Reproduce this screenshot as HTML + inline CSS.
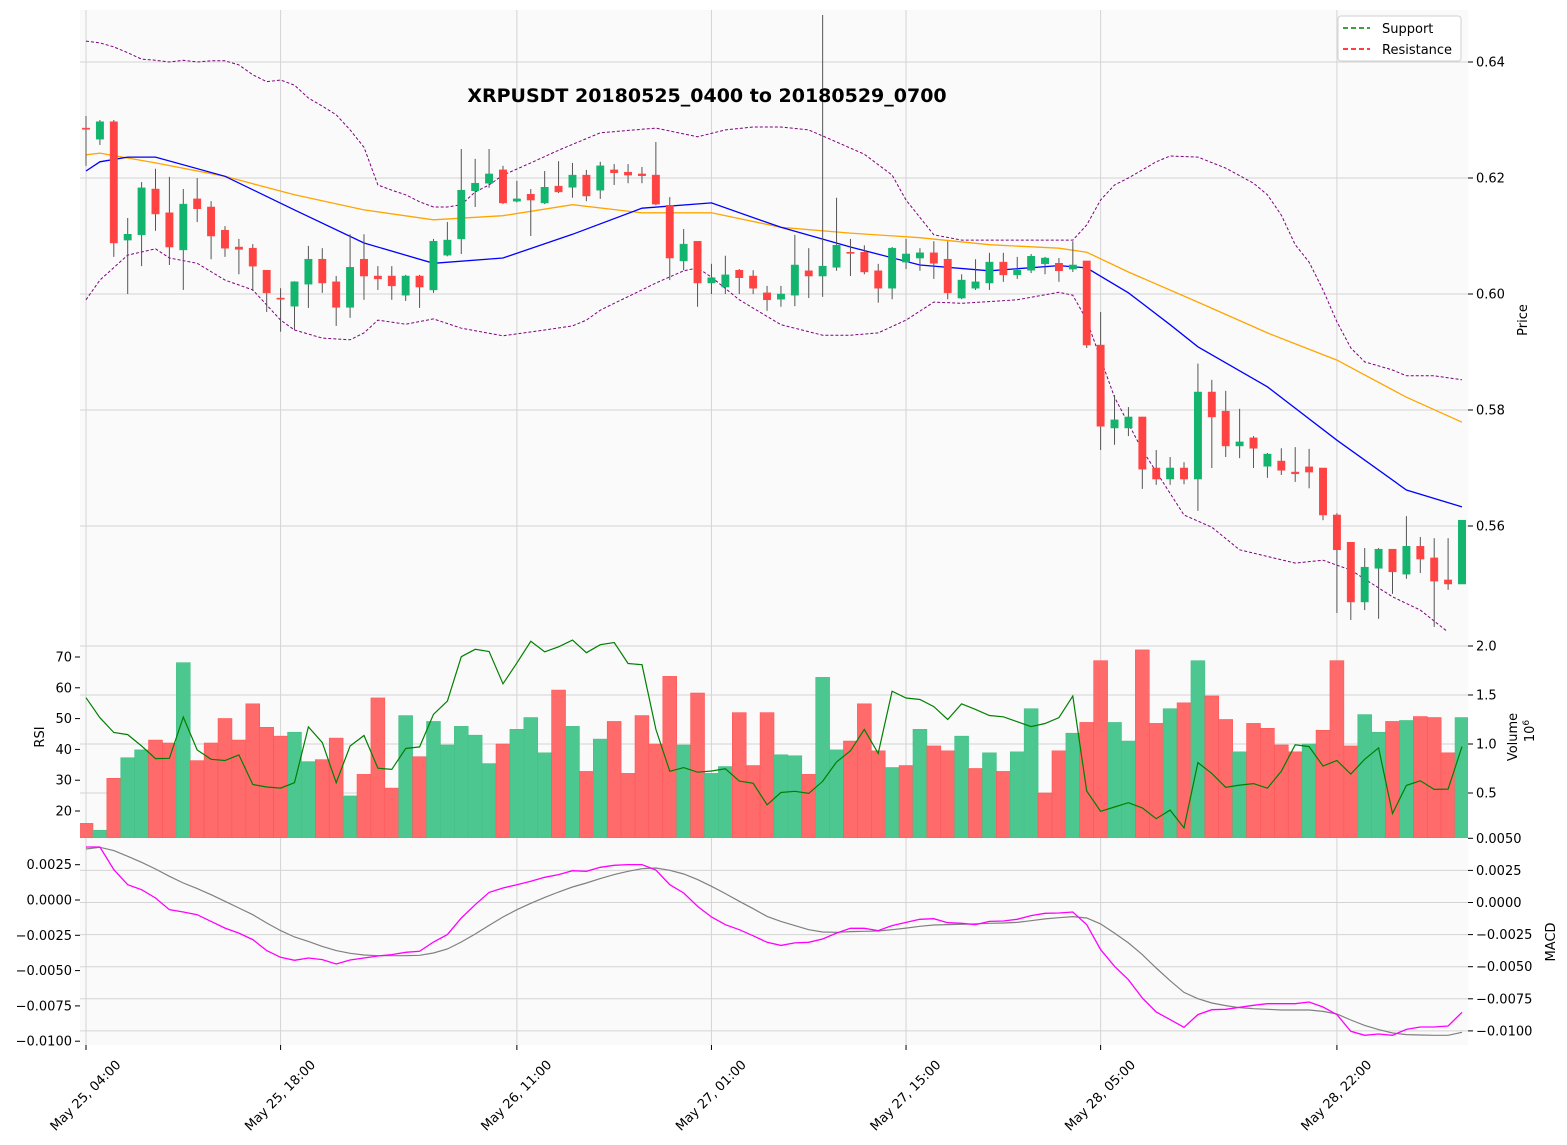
<!DOCTYPE html>
<html><head><meta charset="utf-8"><style>
html,body{margin:0;padding:0;background:#fff;}
svg{display:block;font-family:"DejaVu Sans","Liberation Sans",sans-serif;}
</style></head><body>
<svg id="chart" width="1567" height="1145" viewBox="0 0 1567 1145" xmlns="http://www.w3.org/2000/svg">
<defs>
<clipPath id="cpMain"><rect x="80" y="10" width="1388" height="621"/></clipPath>
<clipPath id="cpVol"><rect x="80" y="631" width="1388" height="207"/></clipPath>
<clipPath id="cpMacd"><rect x="80" y="838" width="1388" height="207"/></clipPath>
</defs>
<rect x="80" y="10" width="1388" height="621" fill="#fafafa"/>
<rect x="80" y="631" width="1388" height="207" fill="#fafafa"/>
<rect x="80" y="838" width="1388" height="207" fill="#fafafa"/>
<g id="grid"></g>
<g id="mainG" clip-path="url(#cpMain)"></g>
<g id="volG" clip-path="url(#cpVol)"></g>
<g id="macdG" clip-path="url(#cpMacd)"></g>
<g id="axes"></g>
<text x="707" y="102" text-anchor="middle" font-size="19" font-weight="bold" fill="#000">XRPUSDT 20180525_0400 to 20180529_0700</text>
<g>
<rect x="1338" y="16" width="123" height="45" rx="3" fill="#ffffff" fill-opacity="0.85" stroke="#d0d0d0"/>
<line x1="1343" y1="28" x2="1370" y2="28" stroke="green" stroke-width="1.5" stroke-dasharray="5,3"/>
<text x="1382" y="33" font-size="13">Support</text>
<line x1="1343" y1="49" x2="1370" y2="49" stroke="red" stroke-width="1.5" stroke-dasharray="5,3"/>
<text x="1382" y="54" font-size="13">Resistance</text>
</g>
<text transform="translate(1527,320) rotate(-90)" text-anchor="middle" font-size="13">Price</text>
<text transform="translate(44,737) rotate(-90)" text-anchor="middle" font-size="13">RSI</text>
<text transform="translate(1517,737) rotate(-90)" text-anchor="middle" font-size="13">Volume</text>
<text transform="translate(1534,731) rotate(-90)" text-anchor="middle" font-size="13">10<tspan dy="-5" font-size="9">6</tspan></text>
<text transform="translate(1555,942) rotate(-90)" text-anchor="middle" font-size="13">MACD</text>
</svg>
<script>
const opens=[.6286,.6267,.6297,.6093,.6102,.6181,.6140,.6076,.6164,.6150,.6110,.6081,.6079,.6041,.5993,.5979,.6017,.6060,.6021,.5977,.6060,.6031,.6031,.5998,.6031,.6007,.6067,.6095,.6178,.6191,.6214,.6160,.6172,.6157,.6186,.6184,.6205,.6179,.6214,.6210,.6207,.6205,.6153,.6057,.6091,.6019,.6012,.6041,.6031,.6002,.5991,.5998,.6040,.6031,.6046,.6072,.6072,.6040,.6010,.6055,.6062,.6071,.6060,.5993,.6010,.6019,.6055,.6033,.6041,.6052,.6053,.6043,.6057,.5912,.5769,.5769,.5788,.5700,.5681,.5700,.5681,.5831,.5798,.5738,.5752,.5703,.5712,.5693,.5702,.5700,.5619,.5572,.5469,.5527,.5560,.5517,.5565,.5545,.5507,.5500];
const highs=[.6307,.6300,.6300,.6131,.6193,.6216,.6202,.6181,.6200,.6160,.6117,.6095,.6086,.6041,.6010,.6022,.6083,.6079,.6031,.6103,.6103,.6048,.6048,.6033,.6033,.6095,.6124,.6250,.6233,.6250,.6221,.6195,.6181,.6212,.6229,.6226,.6214,.6228,.6224,.6224,.6219,.6262,.6167,.6112,.6091,.6052,.6066,.6043,.6041,.6014,.6014,.6102,.6079,.6481,.6166,.6095,.6084,.6052,.6081,.6095,.6079,.6091,.6091,.6034,.6060,.6071,.6071,.6064,.6069,.6064,.6062,.6091,.6057,.5969,.5826,.5805,.5788,.5731,.5719,.5710,.5880,.5852,.5833,.5802,.5755,.5726,.5734,.5736,.5733,.5700,.5622,.5572,.5562,.5562,.5560,.5617,.5581,.5579,.5579,.5610];
const lows=[.6221,.6257,.6064,.6000,.6048,.6109,.6050,.6007,.6124,.6060,.6064,.6034,.6005,.5969,.5935,.5938,.5976,.6002,.5945,.5959,.5990,.6007,.5990,.5988,.5976,.6002,.6065,.6069,.6150,.6183,.6155,.6158,.6100,.6155,.6174,.6166,.6160,.6164,.6188,.6191,.6191,.6153,.6024,.6041,.5978,.6000,.6000,.6000,.6000,.5971,.5978,.5979,.5993,.5995,.6040,.6031,.6034,.5985,.5991,.6043,.6040,.6026,.5991,.5991,.6007,.6007,.6021,.6026,.6036,.6034,.6021,.6038,.5907,.5731,.5740,.5755,.5664,.5671,.5671,.5672,.5626,.5700,.5719,.5717,.5700,.5683,.5688,.5676,.5665,.5610,.5450,.5438,.5455,.5440,.5483,.5509,.5519,.5426,.5490,.5500];
const closes=[.6284,.6297,.6088,.6103,.6183,.6138,.6081,.6155,.6147,.6100,.6079,.6077,.6048,.6002,.5992,.6021,.6060,.6019,.5977,.6046,.6031,.6026,.6014,.6031,.6012,.6091,.6093,.6179,.6191,.6207,.6157,.6164,.6162,.6184,.6176,.6205,.6169,.6221,.6209,.6205,.6204,.6155,.6062,.6086,.6019,.6028,.6033,.6028,.6010,.5990,.6000,.6050,.6031,.6048,.6084,.6070,.6038,.6010,.6079,.6069,.6071,.6053,.6002,.6024,.6021,.6055,.6033,.6041,.6065,.6062,.6040,.6050,.5912,.5772,.5783,.5788,.5698,.5681,.5700,.5681,.5831,.5788,.5738,.5745,.5734,.5724,.5696,.5690,.5693,.5619,.5559,.5469,.5529,.5560,.5521,.5565,.5543,.5505,.5500,.5610];
const volumes=[.19,.12,.65,.86,.94,1.04,1.01,1.83,.83,1.01,1.26,1.04,1.41,1.17,1.08,1.12,.82,.84,1.06,.47,.69,1.47,.55,1.29,.87,1.23,.99,1.18,1.09,.80,1.00,1.15,1.27,.91,1.55,1.18,.72,1.05,1.23,.70,1.29,1.00,1.69,.99,1.52,.70,.77,1.32,.78,1.32,.89,.88,.69,1.68,.94,1.03,1.41,.93,.76,.78,1.15,.98,.93,1.08,.75,.91,.72,.92,1.36,.50,.93,1.11,1.22,1.85,1.22,1.03,1.96,1.21,1.36,1.42,1.85,1.49,1.25,.92,1.21,1.16,.99,.92,1.00,1.14,1.85,.98,1.30,1.12,1.23,1.24,1.28,1.27,.91,1.27];
const volDir="rgrggrrgrrrrrrrggrrgrrrgrgggggrgggrgrgrrrrrgrggrrrggrggrrrgrgrrgrgrggrrgrrggrrgrgrrgrrrrgrrrggrgrrrg";
const rsi=[56.8,50.3,45.5,44.8,41.1,37.0,37.1,50.5,39.8,36.8,36.4,38.2,28.6,27.8,27.45,29.2,47.3,42.2,29.2,41.1,44.5,33.9,33.5,40.3,40.8,51.4,55.7,70.1,72.5,71.8,61.3,68.1,75.1,71.7,73.3,75.5,71.4,74.0,74.7,67.9,67.5,46.5,32.9,34.1,32.6,33.0,33.7,29.7,29.0,22.0,26.0,26.4,25.7,29.6,35.9,39.5,46.5,38.7,58.9,56.7,56.2,53.9,49.7,54.8,53.0,51.0,50.6,49.0,47.4,48.4,50.3,57.3,26.5,19.9,21.3,22.7,21.0,17.5,20.3,14.5,35.7,32.2,27.7,28.4,28.9,27.4,32.9,41.5,40.9,34.6,36.4,32.0,36.8,40.5,19.2,28.3,29.8,27.0,27.1,40.9];
const macd=[.00432,.00432,.00256,.00139,.00100,.00035,-.00056,-.00074,-.00095,-.00147,-.00199,-.00238,-.00289,-.00375,-.00427,-.00450,-.00432,-.00445,-.00479,-.00448,-.00432,-.00417,-.00406,-.00388,-.00380,-.00308,-.00250,-.00121,-.00017,.00079,.00113,.00139,.00165,.00196,.00217,.00248,.00243,.00274,.00290,.00295,.00295,.00253,.00139,.00074,-.00030,-.00113,-.00173,-.00212,-.00259,-.00310,-.00334,-.00315,-.00310,-.00284,-.00238,-.00201,-.00201,-.00219,-.00180,-.00155,-.00131,-.00126,-.00157,-.00162,-.00172,-.00147,-.00144,-.00131,-.00102,-.00084,-.00082,-.00074,-.00172,-.00367,-.00497,-.00601,-.00744,-.00853,-.00912,-.00972,-.00873,-.00835,-.00832,-.00816,-.00801,-.00788,-.00788,-.00788,-.00775,-.00814,-.00873,-.01003,-.01034,-.01024,-.01034,-.00988,-.00970,-.00970,-.00962,-.00855];
const signal=[.00417,.00430,.00404,.00360,.00313,.00261,.00204,.00152,.00108,.00061,.00009,-.00043,-.00095,-.00160,-.00219,-.00269,-.00303,-.00342,-.00375,-.00396,-.00409,-.00414,-.00414,-.00414,-.00411,-.00393,-.00362,-.00308,-.00245,-.00178,-.00113,-.00056,-.00006,.00040,.00082,.00121,.00152,.00186,.00217,.00243,.00263,.00269,.00251,.00222,.00178,.00126,.00069,.00009,-.00048,-.00108,-.00147,-.00180,-.00212,-.00230,-.00232,-.00227,-.00224,-.00222,-.00212,-.00199,-.00185,-.00175,-.00172,-.00170,-.00167,-.00162,-.00160,-.00155,-.00142,-.00128,-.00118,-.00110,-.00121,-.00167,-.00238,-.00315,-.00406,-.00510,-.00609,-.00700,-.00749,-.00783,-.00803,-.00819,-.00827,-.00832,-.00837,-.00837,-.00837,-.00848,-.00868,-.00915,-.00957,-.00990,-.01016,-.01029,-.01032,-.01034,-.01034,-.01011];
const smaIdx=[0,1,3,5,10,15,20,25,30,35,40,45,50,55,60,65,70,72,75,78,80,85,90,95,99];
const smaVal=[.6212,.6228,.6236,.6236,.6203,.6145,.6088,.6053,.6062,.6103,.6148,.6157,.6115,.6081,.6050,.6040,.6049,.6045,.6002,.5947,.5909,.5840,.5748,.5662,.5633];
const emaIdx=[0,1,5,10,15,20,25,30,35,40,45,50,55,60,65,70,72,75,80,85,90,95,99];
const emaVal=[.6240,.6243,.6226,.6203,.6171,.6145,.6128,.6135,.6154,.6140,.6140,.6115,.6105,.6097,.6085,.6079,.6072,.6038,.5986,.5933,.5886,.5822,.5779];
const upIdx=[0,1,2,3,4,5,6,7,8,9,10,11,12,13,14,15,16,17,18,19,20,21,22,23,24,25,26,27,28,29,30,32,34,37,41,44,46,48,50,52,54,56,58,59,61,63,67,71,72,73,74,75,77,78,80,82,84,85,86,87,88,89,90,91,92,93,94,95,97,99];
const upVal=[.6436,.6433,.6426,.6416,.6405,.6403,.6400,.6403,.6400,.6402,.6402,.6395,.6378,.6366,.6369,.6360,.6338,.6324,.6309,.6283,.6253,.6188,.6179,.6171,.6159,.6150,.6150,.6154,.6176,.6188,.6205,.6226,.6248,.6278,.6286,.6271,.6283,.6288,.6288,.6283,.6262,.6241,.6205,.6162,.6102,.6093,.6093,.6093,.6119,.6162,.6188,.6200,.6228,.6238,.6236,.6217,.6191,.6171,.6136,.6085,.6055,.6007,.5952,.5907,.5883,.5876,.5869,.5859,.5859,.5852];
const loIdx=[0,1,3,5,6,8,10,12,14,15,17,19,20,21,23,25,27,30,33,35,36,37,38,40,41,43,44,45,47,50,53,55,57,59,61,63,67,70,71,72,74,76,79,81,83,87,89,91,94,96,98,99];
const loVal=[.5990,.6024,.6067,.6078,.6062,.6053,.6024,.6007,.5955,.5938,.5924,.5921,.5933,.5955,.5948,.5957,.5941,.5928,.5938,.5945,.5955,.5972,.5984,.6007,.6019,.6040,.6045,.6029,.5990,.5947,.5929,.5929,.5933,.5955,.5986,.5984,.5990,.6003,.5998,.5955,.5822,.5731,.5619,.5598,.5559,.5536,.5541,.5524,.5478,.5455,.5417,.5404];
const xTickIdx=[0,14,31,45,59,73,90];
const xTickLabels=["May 25, 04:00","May 25, 18:00","May 26, 11:00","May 27, 01:00","May 27, 15:00","May 28, 05:00","May 28, 22:00"];
const priceTicks=[0.64,0.62,0.60,0.58,0.56];
const priceTickLabels=["0.64","0.62","0.60","0.58","0.56"];
const rsiTicks=[70,60,50,40,30,20];
const volTicks=[2.0,1.5,1.0,0.5];
const volTickLabels=["2.0","1.5","1.0","0.5"];
const macdRTicks=[0.005,0.0025,0,-0.0025,-0.005,-0.0075,-0.01];
const macdRLabels=["0.0050","0.0025","0.0000","\u22120.0025","\u22120.0050","\u22120.0075","\u22120.0100"];
const macdLTicks=[0.0025,0,-0.0025,-0.005,-0.0075,-0.01];
const macdLLabels=["0.0025","0.0000","\u22120.0025","\u22120.0050","\u22120.0075","\u22120.0100"];

const NS="http://www.w3.org/2000/svg";
const X=i=>86+i*(1462-86)/99;
const YP=p=>62+(0.64-p)*5800;
const YV=v=>842-98*v;
const YR=r=>657+(70-r)*3.08;
const YM=m=>902.5-m*12840;
const YML=m=>900-m*14120;
function mk(tag,attrs,parent){const e=document.createElementNS(NS,tag);for(const k in attrs)e.setAttribute(k,attrs[k]);parent.appendChild(e);return e;}
const grid=document.getElementById('grid'),mainG=document.getElementById('mainG'),volG=document.getElementById('volG'),macdG=document.getElementById('macdG'),axes=document.getElementById('axes');
const GC="#d4d4d4";
// grid
xTickIdx.forEach((ti,k)=>{const x=X(ti);
 const l=mk('line',{x1:x,y1:10,x2:x,y2:1045,stroke:GC,'stroke-width':1},grid);
 
 
 const t=mk('line',{x1:x,y1:1045,x2:x,y2:1050,stroke:'#000','stroke-width':1},axes);
 
 
 const tx=mk('text',{transform:`translate(${x},1096) rotate(-45)`,'text-anchor':'middle','dominant-baseline':'middle','font-size':13},axes);
 tx.textContent=xTickLabels[k];
 
 
});
priceTicks.forEach((p,k)=>{const y=YP(p);
 const l=mk('line',{x1:80,y1:y,x2:1468,y2:y,stroke:GC},grid);
 
 
 mk('line',{x1:1468,y1:y,x2:1473,y2:y,stroke:'#000'},axes);
 const t=mk('text',{x:1476,y:y+4.5,'font-size':13},axes);t.textContent=priceTickLabels[k];
 
 
});
volTicks.forEach((v,k)=>{const y=YV(v);
 const l=mk('line',{x1:80,y1:y,x2:1468,y2:y,stroke:GC},grid);
 
 
 mk('line',{x1:1468,y1:y,x2:1473,y2:y,stroke:'#000'},axes);
 const t=mk('text',{x:1476,y:y+4.5,'font-size':13},axes);t.textContent=volTickLabels[k];
 
 
});
rsiTicks.forEach(r=>{const y=YR(r);
 mk('line',{x1:75,y1:y,x2:80,y2:y,stroke:'#000'},axes);
 const t=mk('text',{x:72,y:y+4.5,'font-size':13,'text-anchor':'end'},axes);t.textContent=String(r);
 
 
});
macdRTicks.forEach((m,k)=>{const y=YM(m);
 if(k>0){const l=mk('line',{x1:80,y1:y,x2:1468,y2:y,stroke:GC},grid);
 
 }
 mk('line',{x1:1468,y1:y,x2:1473,y2:y,stroke:'#000'},axes);
 const t=mk('text',{x:1476,y:y+4.5,'font-size':13},axes);t.textContent=macdRLabels[k];
 
 
});
macdLTicks.forEach((m,k)=>{const y=YML(m);
 mk('line',{x1:75,y1:y,x2:80,y2:y,stroke:'#000'},axes);
 const t=mk('text',{x:72,y:y+4.5,'font-size':13,'text-anchor':'end'},axes);t.textContent=macdLLabels[k];
 
 
});
function line(idx,vals,yf,parent,attrs,name){
 const pts=vals.map((v,k)=>X(idx?idx[k]:k).toFixed(1)+','+yf(v).toFixed(1)).join(' ');
 const a=Object.assign({points:pts,fill:'none'},attrs);
 const e=mk('polyline',a,parent);
 
 
 return e;
}
// bands & MAs
line(upIdx,upVal,YP,mainG,{stroke:'#800080','stroke-width':1,'stroke-dasharray':'3,2'},'bollinger-upper');
line(loIdx,loVal,YP,mainG,{stroke:'#800080','stroke-width':1,'stroke-dasharray':'3,2'},'bollinger-lower');
line(emaIdx,emaVal,YP,mainG,{stroke:'#ffa500','stroke-width':1.3},'ma-orange');
line(smaIdx,smaVal,YP,mainG,{stroke:'#0000ff','stroke-width':1.3},'ma-blue');
// candles
closes.forEach((c,i)=>{const o=opens[i],x=X(i);const up=c>=o;const col=up?'#13b46e':'#ff4343';
 const w=mk('line',{x1:x,y1:YP(highs[i]),x2:x,y2:YP(lows[i]),stroke:'#555','stroke-width':1},mainG);
 
 
 const yt=YP(Math.max(o,c)),yb=YP(Math.min(o,c));
 const b=mk('rect',{x:x-3.7,y:yt,width:7.4,height:Math.max(yb-yt,1.2),fill:col,stroke:col,'stroke-width':0.5},mainG);
 
 
});
// volume
volumes.forEach((v,i)=>{const x=X(i);const col=volDir[i]==='g'?'#4cc78f':'#ff6b6b';const sc=volDir[i]==='g'?'#45c088':'#ff5555';
 const y=YV(v);
 const b=mk('rect',{x:x-6.95,y:y,width:13.9,height:838-y,fill:col,stroke:sc,'stroke-width':0.6},volG);
 
 
});
line(null,rsi,YR,volG,{stroke:'#008000','stroke-width':1.2},'rsi-line');
// macd
line(null,signal,YM,macdG,{stroke:'#808080','stroke-width':1.2},'macd-signal-line');
line(null,macd,YM,macdG,{stroke:'#ff00ff','stroke-width':1.3},'macd-line');
</script>
</body></html>
